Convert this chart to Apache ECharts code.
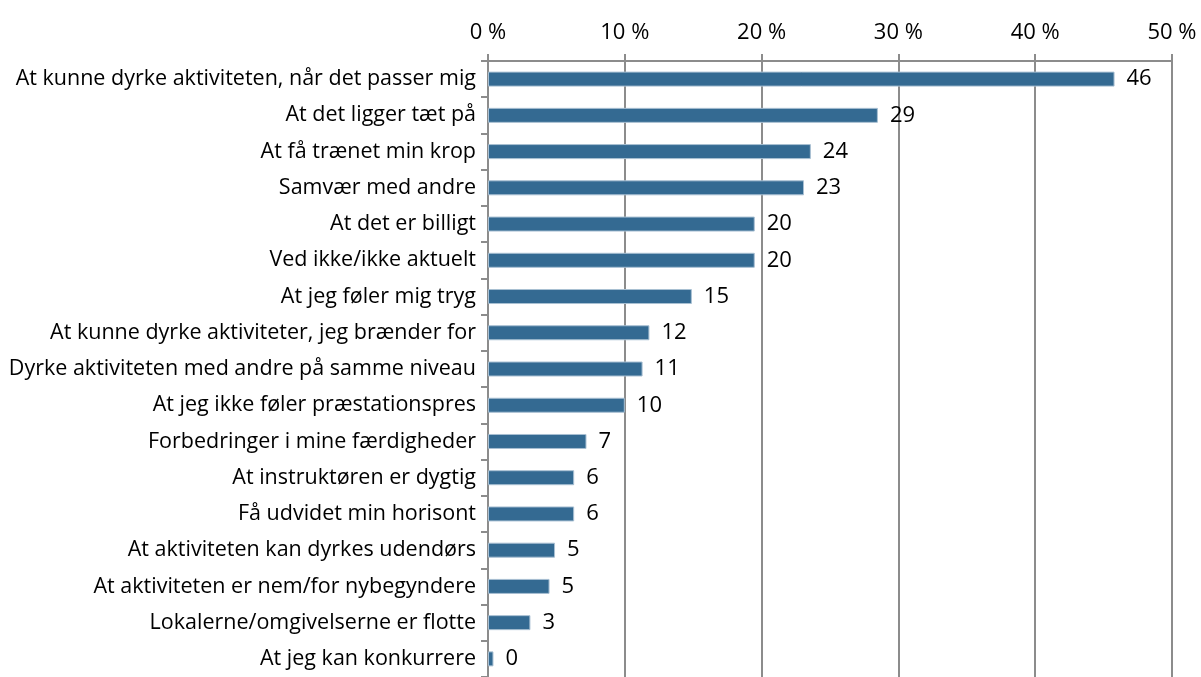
<!DOCTYPE html>
<html>
<head>
<meta charset="utf-8">
<script src="https://cdn.jsdelivr.net/npm/echarts@6/dist/echarts.min.js"></script>
<style>
  html, body { margin: 0; padding: 0; background: #fff; }
  #myChart { width: 1201px; height: 677px; }
</style>
</head>
<body>
<div id="myChart"></div>
<script>
// kategorier (fra top til bund)
var categories = [
  'At kunne dyrke aktiviteten, når det passer mig',
  'At det ligger tæt på',
  'At få trænet min krop',
  'Samvær med andre',
  'At det er billigt',
  'Ved ikke/ikke aktuelt',
  'At jeg føler mig tryg',
  'At kunne dyrke aktiviteter, jeg brænder for',
  'Dyrke aktiviteten med andre på samme niveau',
  'At jeg ikke føler præstationspres',
  'Forbedringer i mine færdigheder',
  'At instruktøren er dygtig',
  'Få udvidet min horisont',
  'At aktiviteten kan dyrkes udendørs',
  'At aktiviteten er nem/for nybegyndere',
  'Lokalerne/omgivelserne er flotte',
  'At jeg kan konkurrere'
]
// procent (aflæst fra søjlerne)
var values = [45.8, 28.5, 23.6, 23.1, 19.5, 19.5, 14.9, 11.8, 11.3, 10.0, 7.2, 6.3, 6.3, 4.9, 4.5, 3.1, 0.4]
// tal ved søjlerne
var valueLabels = [46, 29, 24, 23, 20, 20, 15, 12, 11, 10, 7, 6, 6, 5, 5, 3, 0]
// akse
var axisTicks = [0, 10, 20, 30, 40, 50]

var gray = '#8c8c8c'
var chart = echarts.init(document.getElementById('myChart'))

var option = {
  animation: false,
  grid: {
    left: 488,
    right: 29,
    top: 61,
    bottom: -6
  },
  xAxis: {
    type: 'value',
    position: 'top',
    min: axisTicks[0],
    max: axisTicks[axisTicks.length - 1],
    interval: 10,
    axisLine: { show: true, lineStyle: { color: gray, width: 2 } },
    axisTick: { show: true, length: 7, lineStyle: { color: gray, width: 2 } },
    splitLine: { show: true, lineStyle: { color: gray, width: 2 } },
    axisLabel: {
      formatter: '{value} %',
      color: '#000',
      fontFamily: 'Open Sans',
      fontSize: 22,
      margin: 17
    }
  },
  yAxis: {
    type: 'category',
    inverse: true,
    data: categories,
    axisLine: { show: true, lineStyle: { color: gray, width: 2 } },
    axisTick: { show: true, length: 7, lineStyle: { color: gray, width: 2 } },
    axisLabel: {
      color: '#000',
      fontFamily: 'Open Sans',
      fontSize: 21.5,
      margin: 12
    }
  },
  series: [{
    type: 'bar',
    data: values,
    barWidth: 15,
    itemStyle: {
      color: '#346a92',
      borderColor: '#a9c0d3',
      borderWidth: 1
    },
    label: {
      show: true,
      position: 'right',
      distance: 12,
      color: '#000',
      fontFamily: 'Open Sans',
      fontSize: 22,
      formatter: function (p) { return valueLabels[p.dataIndex] }
    }
  }]
}
chart.setOption(option)
</script>
</body>
</html>
